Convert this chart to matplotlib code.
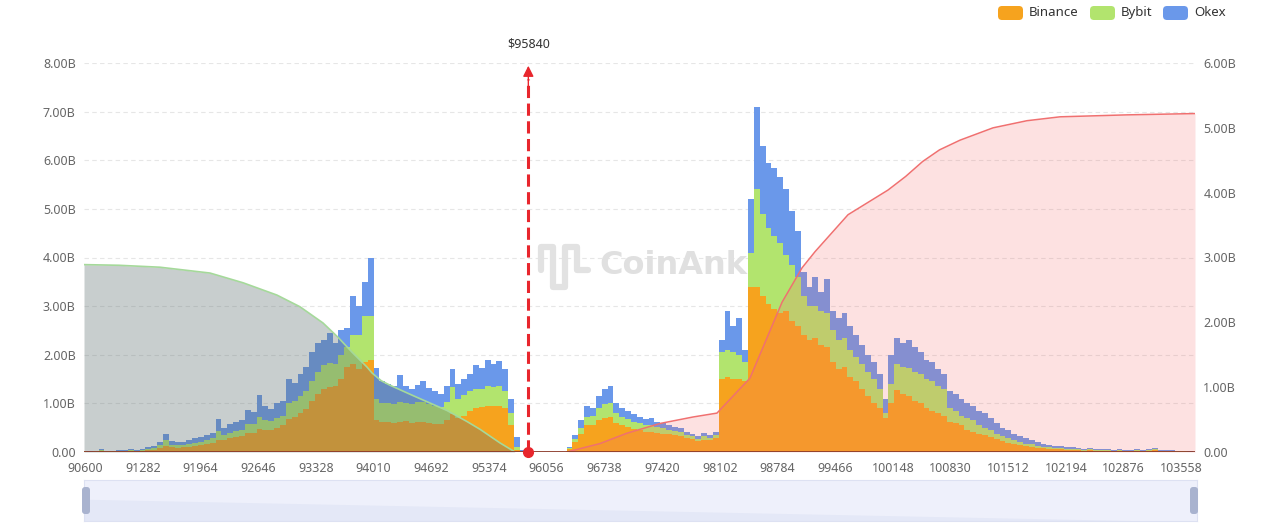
import numpy as np
import matplotlib.pyplot as plt
from matplotlib.patches import FancyBboxPatch, Polygon
from matplotlib.transforms import IdentityTransform

plt.rcParams['font.family'] = ['Noto Sans', 'DejaVu Sans']

# price labels on the x axis
tick_prices = [90600, 91282, 91964, 92646, 93328, 94010, 94692, 95374, 96056,
               96738, 97420, 98102, 98784, 99466, 100148, 100830, 101512,
               102194, 102876, 103558]
first_bar = 90588
bar_step = 69.15
current_price = 95840

# liquidation leverage per price bucket (billions USD)
binance = [.01, .01, .01, .03, .01, .01, .02, .02, .03, .02,
           .03, .04, .05, .09, .12, .10, .09, .10, .11, .13,
           .14, .17, .19, .25, .24, .28, .30, .32, .40, .40,
           .48, .46, .45, .50, .55, .68, .72, .80, .88, 1.05,
           1.20, 1.30, 1.34, 1.35, 1.50, 1.75, 1.80, 1.70, 1.85, 1.90,
           .65, .62, .62, .60, .62, .63, .60, .62, .62, .60,
           .58, .58, .65, .78, .70, .75, .85, .90, .92, .95,
           .95, .95, .90, .55, .05, 0, 0, 0, 0, 0,
           0, 0, 0, .06, .20, .38, .55, .55, .65, .70,
           .72, .60, .55, .52, .48, .45, .42, .42, .40, .38,
           .36, .34, .32, .28, .26, .22, .25, .24, .28, 1.50,
           1.55, 1.50, 1.50, 1.45, 3.40, 3.40, 3.20, 3.05, 2.95, 2.85,
           2.90, 2.70, 2.60, 2.40, 2.30, 2.35, 2.20, 2.15, 1.85, 1.70,
           1.75, 1.55, 1.45, 1.30, 1.15, 1.00, .90, .70, 1.00, 1.27,
           1.20, 1.15, 1.05, 1.00, .90, .85, .80, .75, .62, .60,
           .55, .45, .42, .38, .34, .30, .26, .22, .19, .16,
           .14, .12, .11, .09, .08, .07, .06, .06, .05, .05,
           .04, .03, .04, .03, .03, .03, .02, .03, .02, .02,
           .03, .02, .03, .04, .02, .02, .02, .01, .01, .01,
           .01]
bybit = [.01, 0, .01, .02, .01, .01, .01, .01, .01, .01,
         .02, .03, .03, .05, .12, .05, .05, .05, .06, .06,
         .07, .08, .09, .18, .11, .12, .13, .14, .18, .17,
         .25, .20, .18, .20, .20, .32, .33, .35, .37, .42,
         .45, .48, .50, .45, .50, .40, .60, .70, .95, .90,
         .45, .38, .38, .38, .40, .37, .38, .40, .40, .38,
         .37, .35, .38, .56, .40, .42, .40, .40, .38, .40,
         .38, .40, .35, .25, .05, .01, 0, 0, 0, 0,
         0, 0, 0, .02, .07, .12, .18, .20, .25, .28,
         .28, .20, .18, .16, .14, .14, .13, .14, .12, .12,
         .10, .09, .09, .07, .06, .05, .07, .05, .06, .55,
         .55, .55, .50, .40, .70, 2.00, 1.70, 1.55, 1.50, 1.45,
         1.15, 1.15, 1.00, .80, .70, .65, .70, .70, .65, .60,
         .60, .55, .50, .50, .50, .50, .40, .10, .40, .53,
         .55, .57, .60, .60, .60, .60, .55, .55, .28, .25,
         .20, .25, .23, .17, .16, .15, .12, .10, .09, .08,
         .06, .05, .05, .04, .03, .03, .02, .02, .02, .02,
         .02, .02, .02, .02, .01, .01, .01, .01, .01, .01,
         .01, .01, .01, .03, .01, .01, .01, .01, .01, 0,
         0]
okex = [0, .01, .01, .01, .01, .01, .01, .02, .02, .02,
        .02, .03, .04, .06, .12, .07, .06, .06, .07, .09,
        .09, .10, .12, .25, .15, .18, .19, .20, .28, .25,
        .45, .29, .25, .30, .30, .50, .37, .45, .50, .58,
        .60, .52, .61, .45, .50, .40, .80, .60, .70, 1.20,
        .62, .45, .40, .37, .56, .35, .32, .36, .43, .34,
        .30, .27, .32, .36, .30, .33, .35, .48, .42, .55,
        .49, .53, .45, .30, .20, .04, 0, 0, 0, 0,
        0, 0, 0, .02, .08, .15, .22, .15, .25, .32,
        .36, .20, .17, .17, .16, .13, .13, .14, .10, .10,
        .09, .09, .09, .07, .06, .05, .08, .06, .08, .25,
        .80, .55, .75, .25, 1.10, 1.70, 1.40, 1.35, 1.40, 1.35,
        1.35, 1.10, .95, .50, .40, .60, .40, .70, .40, .45,
        .50, .50, .45, .40, .35, .35, .30, .30, .60, .55,
        .50, .58, .50, .45, .40, .40, .35, .30, .35, .35,
        .35, .30, .30, .30, .30, .25, .22, .18, .17, .14,
        .13, .11, .09, .07, .06, .04, .04, .04, .03, .03,
        .02, .02, .02, .02, .02, .02, .02, .02, .02, .02,
        .02, .02, .02, .02, .02, .01, .01, .01, .01, .01,
        0]

# cumulative long / short liquidation (right axis, billions)
long_px = [90588, 91000, 91487, 92078, 92468, 92869, 93141, 93413, 93590, 93756,
           93933, 93992, 94100, 94205, 94477, 94879, 95115, 95269, 95505, 95683]
long_cum = [2.89, 2.88, 2.85, 2.76, 2.61, 2.42, 2.24, 1.99, 1.77, 1.54,
            1.31, 1.22, 1.10, 1.03, 0.87, 0.64, 0.47, 0.35, 0.14, 0.00]
short_px = [96297, 96687, 97006, 97397, 97787, 98070, 98460, 98839, 99075,
            99229, 99619, 100091, 100300, 100500, 100700, 100943, 101333, 101734,
            102125, 102916, 103720]
short_cum = [0.00, 0.13, 0.29, 0.44, 0.54, 0.60, 1.14, 2.31, 2.84,
             3.09, 3.66, 4.04, 4.25, 4.48, 4.66, 4.81, 5.00, 5.11,
             5.17, 5.20, 5.22]

c_binance = '#F6A31E'
c_bybit = '#B2E46E'
c_okex = '#6A98EA'
c_red = '#E8262D'
label_col = '#666666'

binance = np.array(binance)
bybit = np.array(bybit)
okex = np.array(okex)
x = first_bar + bar_step * np.arange(len(binance))

fig = plt.figure(figsize=(12.8, 5.26), dpi=100)
ax = fig.add_axes([84 / 1280, 74 / 526, 1111 / 1280, 389 / 526])

ax.bar(x, binance, width=bar_step, color=c_binance, linewidth=0, zorder=2)
ax.bar(x, bybit, width=bar_step, bottom=binance, color=c_bybit, linewidth=0, zorder=2)
ax.bar(x, okex, width=bar_step, bottom=binance + bybit, color=c_okex, linewidth=0, zorder=2)

ax.set_xlim(90588, 103720)
ax.set_ylim(0, 8)
ax.set_yticks(range(9))
ax.set_yticklabels(['0.00'] + ['%.2fB' % v for v in range(1, 9)])
ax.set_xticks(tick_prices)
ax.set_xticklabels([str(p) for p in tick_prices])
ax.grid(axis='y', color='#e6e6e6', linestyle=(0, (4, 3)), linewidth=0.8, zorder=0)
ax.tick_params(length=0, labelsize=9, labelcolor=label_col)
ax.tick_params(axis='y', pad=6)
ax.tick_params(axis='x', pad=7)
for s in ax.spines.values():
    s.set_visible(False)

ax2 = ax.twinx()
ax2.set_ylim(0, 6)
ax2.set_yticks(range(7))
ax2.set_yticklabels(['0.00'] + ['%.2fB' % v for v in range(1, 7)])
ax2.tick_params(length=0, labelsize=9, labelcolor=label_col, pad=6)
for s in ax2.spines.values():
    s.set_visible(False)

# cumulative areas sit over the bars
ax2.fill_between(long_px, long_cum, color=(0.39, 0.46, 0.46), alpha=0.35, linewidth=0)
ax2.plot(long_px, long_cum, color='#a5d99a', lw=1.2)
ax2.fill_between(short_px, short_cum, color='#f56c6c', alpha=0.2, linewidth=0)
ax2.plot(short_px, short_cum, color='#f07070', lw=1.1)

ax2.axhline(0, color='#8c3b2b', lw=1.3, zorder=5)

# current price marker
ax2.plot([current_price, current_price], [0, 5.75], color=c_red, lw=2.2,
         linestyle=(0, (4, 1.8)), zorder=6)
ax2.annotate('', xy=(current_price, 6), xytext=(current_price, 5.6),
             arrowprops=dict(arrowstyle='-|>', color=c_red, lw=1, mutation_scale=16),
             zorder=7)
ax2.plot(current_price, 0, 'o', color=c_red, ms=7, clip_on=False, zorder=8)
ax2.annotate('$' + str(current_price), xy=(current_price, 6), xytext=(0, 13.5),
             textcoords='offset points', ha='center', va='center',
             fontsize=9, color='#333333')

# watermark
fig.text(673 / 1280, 1 - 266 / 526, 'CoinAnk', fontsize=23, fontweight='bold',
         family=['DejaVu Sans'], color='#e0e0e0', ha='center', va='center', zorder=0)
wave_x = [541, 541, 553, 553, 565, 565, 577, 577, 588]
wave_y = [270, 247, 247, 287, 287, 247, 247, 270, 270]
fig.lines.append(plt.Line2D(wave_x, [526 - v for v in wave_y], transform=IdentityTransform(),
                            color='#e2e2e2', lw=4.5, solid_joinstyle='round',
                            solid_capstyle='round'))

# legend
legend_items = [('Binance', c_binance, 998), ('Bybit', c_bybit, 1090), ('Okex', c_okex, 1163)]
for name, col, px in legend_items:
    fig.patches.append(FancyBboxPatch((px, 526 - 20), 25, 14,
                                      boxstyle='round,pad=0,rounding_size=4',
                                      transform=IdentityTransform(),
                                      facecolor=col, edgecolor='none'))
    fig.text((px + 31) / 1280, 1 - 12.5 / 526, name, fontsize=9.5, color='#333333',
             va='center', ha='left')

# data zoom slider
sl = fig.add_axes([84 / 1280, 5 / 526, 1113 / 1280, 41 / 526])
sl.set_xlim(0, 1)
sl.set_ylim(0, 1)
sl.set_facecolor('#eef0fb')
sl.add_patch(Polygon([(0, 0), (0, 0.52), (0.94, 0)], closed=True,
                     facecolor='#e4e8f7', edgecolor='none'))
sl.set_xticks([])
sl.set_yticks([])
for side, s in sl.spines.items():
    s.set_color('#dde1f2')
    s.set_linewidth(0.8)
for hx in (82, 1190):
    fig.patches.append(FancyBboxPatch((hx, 526 - 514), 8, 27,
                                      boxstyle='round,pad=0,rounding_size=3',
                                      transform=IdentityTransform(),
                                      facecolor='#a9b3cf', edgecolor='none'))

fig.savefig('out.png', dpi=100)
